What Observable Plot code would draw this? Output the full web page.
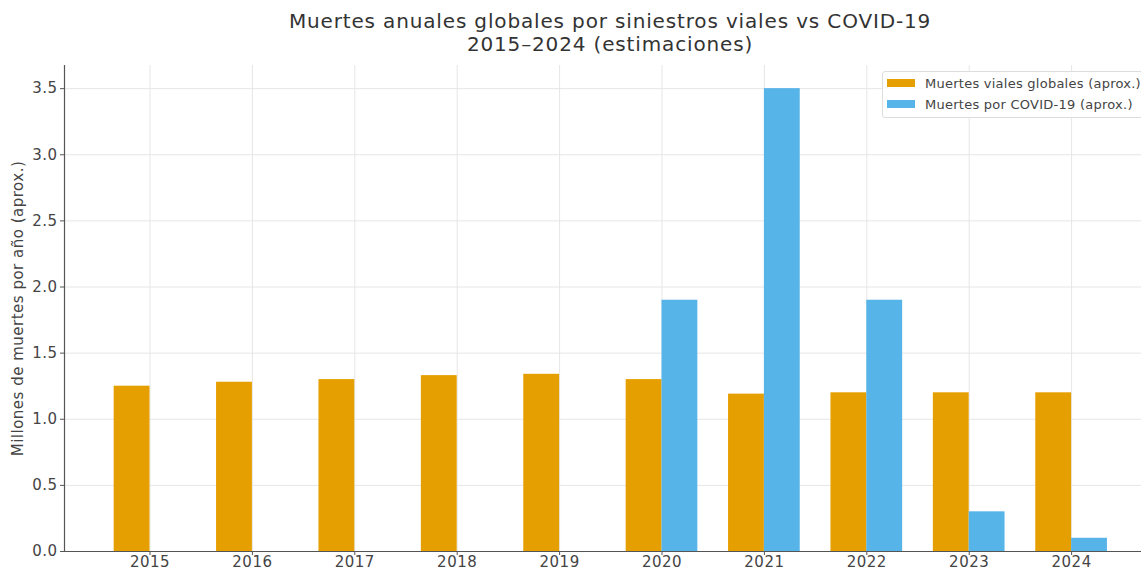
<!DOCTYPE html>
<html>
<head>
<meta charset="utf-8">
<script src="https://cdn.jsdelivr.net/npm/d3@7"></script>
<script src="https://cdn.jsdelivr.net/npm/@observablehq/plot@0.6"></script>
<style>
  body { margin: 0; background: #fff; font-family: "DejaVu Sans", sans-serif; }
  #wrap { position: relative; width: 1141px; height: 571px; overflow: hidden; }
  #title { position: absolute; left: 0; width: 1220px; top: 10px; text-align: center; font-size: 20px; letter-spacing: 0.85px; line-height: 23px; color: #333; }
  #chart { position: absolute; left: 0; top: 60px; }
  #legend { position: absolute; left: 882px; top: 71px; width: 280px; height: 45px; border: 1px solid #ddd; border-radius: 3px; background: rgba(255,255,255,0.85); font-size: 13px; letter-spacing: 0.25px; color: #444; }
  .item { position: absolute; left: 4px; height: 16px; display: flex; align-items: center; white-space: nowrap; }
  .sw { width: 28px; height: 8px; margin-right: 10px; }
</style>
</head>
<body>
<div id="wrap">
  <div id="title"></div>
  <div id="chart"></div>
  <div id="legend"></div>
</div>
<script>
const years = [2015, 2016, 2017, 2018, 2019, 2020, 2021, 2022, 2023, 2024];
const roadDeaths = [1.25, 1.28, 1.30, 1.33, 1.34, 1.30, 1.19, 1.20, 1.20, 1.20];
const covidDeaths = [0, 0, 0, 0, 0, 1.9, 3.5, 1.9, 0.3, 0.1];
const seriesNames = ["Muertes viales globales (aprox.)", "Muertes por COVID-19 (aprox.)"];
const seriesColors = ["#E69F00", "#56B4E9"];
const yTicks = [0, 0.5, 1.0, 1.5, 2.0, 2.5, 3.0, 3.5];
const titleLines = ["Muertes anuales globales por siniestros viales vs COVID-19", "2015–2024 (estimaciones)"];
const yLabel = "Millones de muertes por año (aprox.)";

const barW = 0.35;
const rows = [];
years.forEach((y, i) => {
  rows.push({year: y, series: seriesNames[0], value: roadDeaths[i], x1: y - barW, x2: y});
  rows.push({year: y, series: seriesNames[1], value: covidDeaths[i], x1: y, x2: y + barW});
});

document.getElementById("title").innerHTML = titleLines.join("<br>");

const legend = document.getElementById("legend");
seriesNames.forEach((s, i) => {
  const d = document.createElement("div");
  d.className = "item";
  d.style.top = (3 + i * 21) + "px";
  d.innerHTML = `<span class="sw" style="background:${seriesColors[i]}"></span><span>${s}</span>`;
  legend.appendChild(d);
});

const xLo = 2014.165;
const pxPerYear = 102.4;
const xHi = xLo + (1141 - 64) / pxPerYear;

const plot = Plot.plot({
  width: 1141,
  height: 511,
  marginLeft: 64,
  marginRight: 0,
  marginTop: 5,
  marginBottom: 20,
  style: {fontFamily: "DejaVu Sans, sans-serif", fontSize: "15px", letterSpacing: "0.5px", color: "#444", background: "#fff"},
  x: {type: "linear", domain: [xLo, xHi]},
  y: {domain: [0, 3.675]},
  color: {domain: seriesNames, range: seriesColors},
  marks: [
    Plot.gridX(years, {stroke: "#e6e6e6", strokeOpacity: 1}),
    Plot.gridY(yTicks, {stroke: "#e6e6e6", strokeOpacity: 1}),
    Plot.rectY(rows, {x1: "x1", x2: "x2", y1: 0, y2: "value", fill: "series"}),
    Plot.ruleX([xLo], {stroke: "#555", strokeWidth: 1.2}),
    Plot.ruleY([0], {stroke: "#555", strokeWidth: 1.2}),
    Plot.axisX(years, {tickFormat: d => String(d), tickSize: 4, tickPadding: 1, label: null, stroke: "#555"}),
    Plot.axisY(yTicks, {tickFormat: d => d.toFixed(1), tickSize: 4, tickPadding: 3, label: null, stroke: "#555"}),
    Plot.text([yLabel], {text: d => d, frameAnchor: "left", textAnchor: "middle", rotate: -90, dx: -46, fontSize: 15, fill: "#444"})
  ]
});
document.getElementById("chart").appendChild(plot);
</script>
</body>
</html>
